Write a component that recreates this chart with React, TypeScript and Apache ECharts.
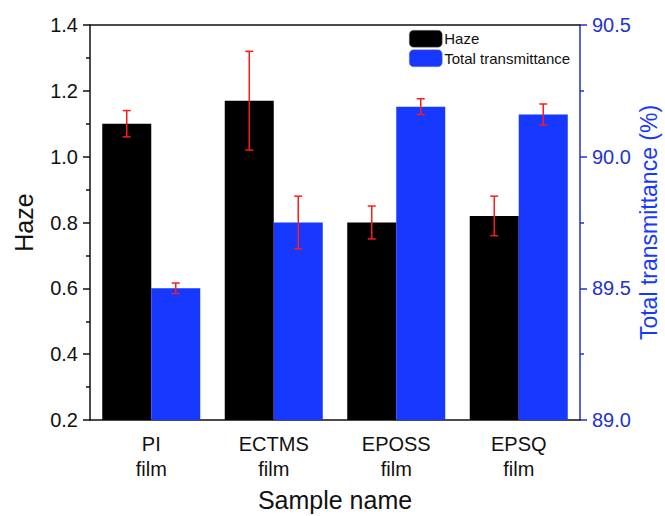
import React, { useEffect, useRef } from "react";
import * as echarts from "echarts";

const categories = ["PI\nfilm", "ECTMS\nfilm", "EPOSS\nfilm", "EPSQ\nfilm"];
const hazeValues = [1.1, 1.17, 0.8, 0.82];
const hazeErrors = [0.04, 0.15, 0.05, 0.06];
const transValues = [89.5, 89.75, 90.19, 90.16];
const transErrors = [0.02, 0.1, 0.03, 0.04];

const FONT = "'Liberation Sans', Arial, sans-serif";
const BLUE_BAR = "#1638ff";
const BLUE_AXIS = "#2233cc";
const RED = "#ff1a1a";

function errRender(sign: number) {
  return (params: any, api: any) => {
    const idx = api.value(0);
    const lo = api.coord([idx, api.value(1)]);
    const hi = api.coord([idx, api.value(2)]);
    const band = api.size([1, 0])[0];
    const x = lo[0] + sign * band * 0.2;
    const cap = 4;
    const style = { stroke: RED, lineWidth: 1.5 };
    return {
      type: "group",
      children: [
        { type: "line", shape: { x1: x, y1: lo[1], x2: x, y2: hi[1] }, style },
        { type: "line", shape: { x1: x - cap, y1: lo[1], x2: x + cap, y2: lo[1] }, style },
        { type: "line", shape: { x1: x - cap, y1: hi[1], x2: x + cap, y2: hi[1] }, style },
      ],
    };
  };
}

export default function App() {
  const ref = useRef<HTMLDivElement>(null);
  useEffect(() => {
    if (!ref.current) return;
    const chart = echarts.init(ref.current, null, { renderer: "svg" });
    const hazeErrData = hazeValues.map((v, i) => [i, v - hazeErrors[i], v + hazeErrors[i]]);
    const transErrData = transValues.map((v, i) => [i, v - transErrors[i], v + transErrors[i]]);
    chart.setOption({
      animation: false,
      backgroundColor: "#ffffff",
      textStyle: { fontFamily: FONT },
      grid: { left: 90, right: 85, top: 25, bottom: 96, containLabel: false, outerBoundsMode: "none" },
      legend: {
        orient: "vertical",
        left: 409,
        top: 30,
        padding: 0,
        itemWidth: 33,
        itemHeight: 17,
        itemGap: 2,
        selectedMode: false,
        textStyle: { fontSize: 15, color: "#111", fontFamily: FONT, padding: [0, 0, 0, -3] },
        data: [
          { name: "Haze", itemStyle: { borderColor: "#888", borderWidth: 0.5 } },
          { name: "Total transmittance", itemStyle: { borderColor: "#888", borderWidth: 0.5 } },
        ],
      },
      xAxis: [
        {
          type: "category",
          data: categories,
          position: "bottom",
          axisLine: { lineStyle: { color: "#111", width: 1.5 } },
          axisTick: { alignWithLabel: true, length: 7, lineStyle: { color: "#111", width: 1.5 } },
          axisLabel: { fontSize: 20, lineHeight: 25, margin: 11, color: "#111", fontFamily: FONT },
          name: "Sample name",
          nameLocation: "middle",
          nameGap: 67,
          nameTextStyle: { fontSize: 25, color: "#111", fontFamily: FONT },
        },
        {
          type: "category",
          data: categories,
          position: "top",
          axisLine: { lineStyle: { color: "#111", width: 1.5 } },
          axisTick: { show: false },
          axisLabel: { show: false },
        },
        {
          type: "category",
          data: categories,
          position: "bottom",
          axisLine: { show: false },
          axisTick: { length: 4, lineStyle: { color: "#111", width: 1.5 } },
          axisLabel: { show: false },
        },
      ],
      yAxis: [
        {
          type: "value",
          min: 0.2,
          max: 1.4,
          interval: 0.2,
          position: "left",
          axisLine: { show: true, lineStyle: { color: "#111", width: 1.5 } },
          axisTick: { show: true, length: 7, lineStyle: { color: "#111", width: 1.5 } },
          minorTick: { show: true, splitNumber: 2, length: 4, lineStyle: { color: "#111", width: 1.5 } },
          splitLine: { show: false },
          axisLabel: {
            fontSize: 20,
            margin: 12,
            color: "#111",
            fontFamily: FONT,
            formatter: (v: number) => v.toFixed(1),
          },
          name: "Haze",
          nameLocation: "middle",
          nameGap: 54,
          nameTextStyle: { fontSize: 25, color: "#111", fontFamily: FONT },
        },
        {
          type: "value",
          min: 89,
          max: 90.5,
          interval: 0.5,
          position: "right",
          axisLine: { show: true, lineStyle: { color: BLUE_AXIS, width: 1.5 } },
          axisTick: { show: true, length: 7, lineStyle: { color: BLUE_AXIS, width: 1.5 } },
          minorTick: { show: true, splitNumber: 2, length: 4, lineStyle: { color: BLUE_AXIS, width: 1.5 } },
          splitLine: { show: false },
          axisLabel: {
            fontSize: 20,
            margin: 12,
            color: BLUE_AXIS,
            fontFamily: FONT,
            formatter: (v: number) => v.toFixed(1),
          },
          name: "Total transmittance (%)",
          nameLocation: "middle",
          nameGap: 57,
          nameMoveOverlap: false,
          nameTextStyle: { fontSize: 23, color: BLUE_BAR, fontFamily: FONT, lineHeight: 24 },
        },
      ],
      series: [
        {
          name: "Haze",
          type: "bar",
          xAxisIndex: 0,
          yAxisIndex: 0,
          data: hazeValues,
          barGap: "0%",
          barCategoryGap: "20%",
          itemStyle: { color: "#000000" },
        },
        {
          name: "Total transmittance",
          type: "bar",
          xAxisIndex: 0,
          yAxisIndex: 1,
          data: transValues,
          barGap: "0%",
          barCategoryGap: "20%",
          itemStyle: { color: BLUE_BAR },
        },
        {
          type: "custom",
          xAxisIndex: 0,
          yAxisIndex: 0,
          data: hazeErrData,
          renderItem: errRender(-1),
          z: 10,
          silent: true,
        },
        {
          type: "custom",
          xAxisIndex: 0,
          yAxisIndex: 1,
          data: transErrData,
          renderItem: errRender(1),
          z: 10,
          silent: true,
        },
      ],
    });
    return () => chart.dispose();
  }, []);
  return (
    <div
      ref={ref}
      style={{ position: "absolute", left: 0, top: 0, width: 665, height: 516 }}
    />
  );
}
